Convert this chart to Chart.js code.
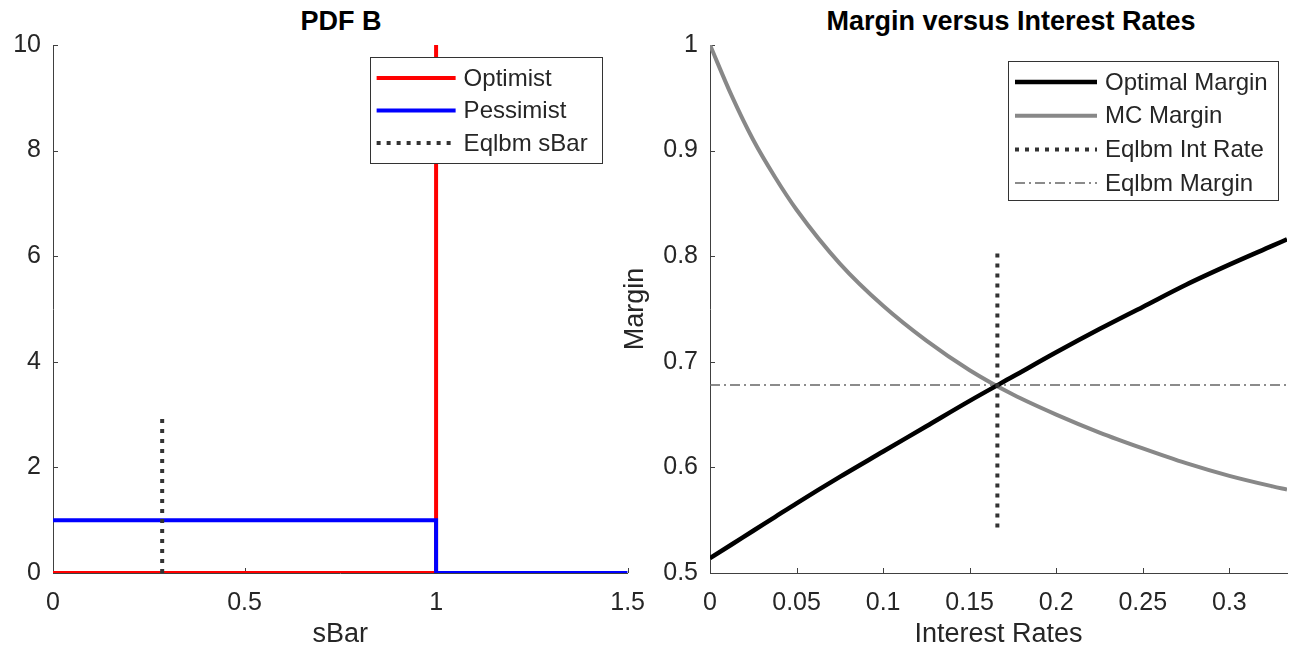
<!DOCTYPE html>
<html lang="en">
<head>
    <meta charset="UTF-8">
    <title>PDF B / Margin versus Interest Rates</title>
    <script src="https://cdn.jsdelivr.net/npm/chart.js"></script>
    <style>
        body {
            margin: 0;
            background: #fff;
            width: 1290px;
            height: 655px;
            overflow: hidden;
            position: relative;
            font-family: 'Liberation Sans', Arial, sans-serif;
        }
        canvas { position: absolute; top: 0; }
        #pdfChart { left: 0; }
        #marginChart { left: 610px; }
        .title {
            position: absolute;
            top: 8px;
            font-weight: bold;
            font-size: 27px;
            line-height: 27px;
            text-align: center;
            color: #000;
        }
    </style>
</head>
<body>
    <div class="title" style="left:241px;width:200px;">PDF B</div>
    <div class="title" style="left:811px;width:400px;">Margin versus Interest Rates</div>
    <canvas id="pdfChart" width="660" height="655"></canvas>
    <canvas id="marginChart" width="680" height="655"></canvas>

    <script>
        // ---- left panel: PDF B ----
        const optimistX = [0, 1, 1];
        const optimistY = [0, 0, 10];
        const pessimistX = [0, 1, 1, 1.5];
        const pessimistY = [1, 1, 0, 0];
        const eqSBarX = [0.285, 0.285];
        const eqSBarY = [0, 3];
        const sBarTicks = [0, 0.5, 1, 1.5];
        const pdfTicks = [0, 2, 4, 6, 8, 10];

        // ---- right panel: Margin versus Interest Rates ----
        const rates = [0, 0.0125, 0.025, 0.0375, 0.05, 0.075, 0.1, 0.125, 0.15, 0.175, 0.2, 0.225, 0.25, 0.275, 0.3, 0.325, 0.3333];
        const optimalMargin = [0.514, 0.527, 0.540, 0.553, 0.566, 0.591, 0.615, 0.639, 0.663, 0.686, 0.709, 0.731, 0.752, 0.773, 0.792, 0.810, 0.816];
        const mcMargin = [1.0, 0.952, 0.910, 0.875, 0.844, 0.793, 0.753, 0.720, 0.692, 0.669, 0.650, 0.633, 0.618, 0.604, 0.592, 0.582, 0.579];
        const eqRateX = [0.166, 0.166];
        const eqRateY = [0.543, 0.808];
        const eqMarginX = [0, 0.3333];
        const eqMarginY = [0.678, 0.678];
        const rateTicks = [0, 0.05, 0.1, 0.15, 0.2, 0.25, 0.3];
        const marginTicks = [0.5, 0.6, 0.7, 0.8, 0.9, 1];

        const txt = '#262626';
        const axisCol = '#404040';
        Chart.defaults.font.family = "'Liberation Sans', Arial, sans-serif";
        Chart.defaults.color = txt;

        const pts = (xs, ys) => xs.map((x, i) => ({ x: x, y: ys[i] }));
        const fmt = v => String(Math.round(v * 100) / 100);

        // small tick marks pointing into the plot, like the original
        const innerTicks = {
            id: 'innerTicks',
            beforeDatasetsDraw(chart) {
                const { ctx, chartArea } = chart;
                ctx.save();
                ctx.strokeStyle = axisCol;
                ctx.lineWidth = 1;
                Object.values(chart.scales).forEach(s => {
                    s.ticks.forEach(t => {
                        const p = Math.round(s.getPixelForValue(t.value)) + 0.5;
                        ctx.beginPath();
                        if (s.isHorizontal()) {
                            ctx.moveTo(p, chartArea.bottom);
                            ctx.lineTo(p, chartArea.bottom - 5);
                        } else {
                            ctx.moveTo(chartArea.left, p);
                            ctx.lineTo(chartArea.left + 5, p);
                        }
                        ctx.stroke();
                    });
                });
                ctx.restore();
            }
        };

        // boxed legend inside the plot (top right)
        const boxLegend = {
            id: 'boxLegend',
            afterDatasetsDraw(chart, args, o) {
                const { ctx, chartArea } = chart;
                const left = chartArea.right - o.right - o.width;
                const top = chartArea.top + o.top;
                ctx.save();
                ctx.fillStyle = '#fff';
                ctx.fillRect(left, top, o.width, o.height);
                ctx.strokeStyle = '#333';
                ctx.lineWidth = 1;
                ctx.strokeRect(Math.round(left) + 0.5, Math.round(top) + 0.5, o.width, o.height);
                ctx.font = "24px 'Liberation Sans', Arial, sans-serif";
                ctx.textBaseline = 'middle';
                chart.data.datasets.forEach((ds, i) => {
                    const y = top + o.first + i * o.step;
                    ctx.beginPath();
                    ctx.setLineDash(ds.borderDash || []);
                    ctx.strokeStyle = ds.borderColor;
                    ctx.lineWidth = ds.borderWidth;
                    ctx.moveTo(left + 7, y);
                    ctx.lineTo(left + o.sample, y);
                    ctx.stroke();
                    ctx.setLineDash([]);
                    ctx.fillStyle = txt;
                    ctx.fillText(ds.label, left + o.sample + 8, y + 1);
                });
                ctx.restore();
            }
        };

        function axis(min, max, ticks, title, pad, size) {
            return {
                type: 'linear',
                min: min,
                max: max,
                afterBuildTicks: s => { s.ticks = ticks.map(v => ({ value: v })); },
                grid: { display: false, drawTicks: false },
                border: { display: true, color: axisCol, width: 1 },
                ticks: { padding: pad, font: { size: 25 }, color: txt, maxRotation: 0, autoSkip: false, callback: fmt },
                title: title,
                afterFit: size
            };
        }

        new Chart(document.getElementById('pdfChart'), {
            type: 'line',
            data: {
                datasets: [
                    { label: 'Optimist', data: pts(optimistX, optimistY), borderColor: '#ff0000', borderWidth: 4, order: 2 },
                    { label: 'Pessimist', data: pts(pessimistX, pessimistY), borderColor: '#0000ff', borderWidth: 4, order: 1 },
                    { label: 'Eqlbm sBar', data: pts(eqSBarX, eqSBarY), borderColor: '#333333', borderWidth: 4, borderDash: [4, 6], order: 0 }
                ]
            },
            options: {
                responsive: false,
                animation: false,
                events: [],
                elements: { point: { radius: 0 }, line: { tension: 0, borderCapStyle: 'butt', fill: false } },
                layout: { padding: { top: 45, right: 31, bottom: 0, left: 0 } },
                scales: {
                    x: axis(0, 1.5, sBarTicks,
                        { display: true, text: 'sBar', font: { size: 27 }, color: txt, padding: { top: 0, bottom: 4 } },
                        15, s => { s.height = 82; }),
                    y: axis(0, 10, pdfTicks, { display: false }, 12, s => { s.width = 53; })
                },
                plugins: {
                    legend: { display: false },
                    tooltip: { enabled: false },
                    boxLegend: { right: 26, top: 12, width: 232, height: 106, first: 21, step: 32.5, sample: 86 }
                }
            },
            plugins: [innerTicks, boxLegend]
        });

        new Chart(document.getElementById('marginChart'), {
            type: 'line',
            data: {
                datasets: [
                    { label: 'Optimal Margin', data: pts(rates, optimalMargin), borderColor: '#000000', borderWidth: 4.5, cubicInterpolationMode: 'monotone', order: 1 },
                    { label: 'MC Margin', data: pts(rates, mcMargin), borderColor: '#888888', borderWidth: 4, cubicInterpolationMode: 'monotone', order: 2 },
                    { label: 'Eqlbm Int Rate', data: pts(eqRateX, eqRateY), borderColor: '#333333', borderWidth: 4, borderDash: [4, 6], order: 0 },
                    { label: 'Eqlbm Margin', data: pts(eqMarginX, eqMarginY), borderColor: '#666666', borderWidth: 1.5, borderDash: [10, 4, 2, 4], order: 3 }
                ]
            },
            options: {
                responsive: false,
                animation: false,
                events: [],
                elements: { point: { radius: 0 }, line: { borderCapStyle: 'butt', fill: false } },
                layout: { padding: { top: 45, right: 3, bottom: 0, left: 0 } },
                scales: {
                    x: axis(0, 0.3333, rateTicks,
                        { display: true, text: 'Interest Rates', font: { size: 27 }, color: txt, padding: { top: 0, bottom: 4 } },
                        15, s => { s.height = 82; }),
                    y: axis(0.5, 1, marginTicks,
                        { display: true, text: 'Margin', font: { size: 27 }, color: txt, padding: { top: 9, bottom: 0 } },
                        12, s => { s.width = 100; })
                },
                plugins: {
                    legend: { display: false },
                    tooltip: { enabled: false },
                    boxLegend: { right: 9, top: 16, width: 270, height: 139, first: 21, step: 33.7, sample: 89 }
                }
            },
            plugins: [innerTicks, boxLegend]
        });
    </script>
</body>
</html>
